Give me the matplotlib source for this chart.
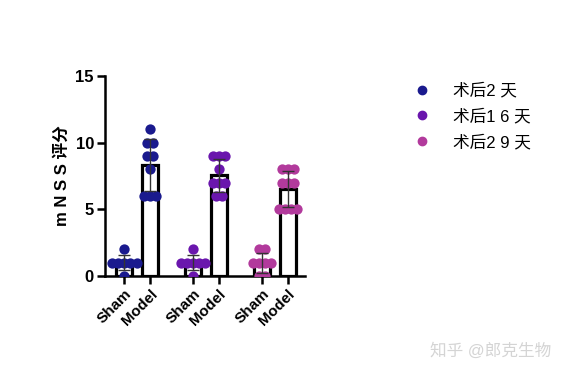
import numpy as np
import matplotlib
matplotlib.use("Agg")
import matplotlib.pyplot as plt

plt.rcParams['font.family'] = ['Liberation Sans', 'Noto Sans CJK SC', 'DejaVu Sans']

categories = ["Sham", "Model", "Sham", "Model", "Sham", "Model"]
series_names = ["术后2 天", "术后1 6 天", "术后2 9 天"]
colors = ["#1a1a8e", "#6a16ad", "#b23a9c"]
sham_2 = [0, 1, 1, 1, 1, 1, 2]
model_2 = [11, 10, 10, 9, 9, 8, 6, 6, 6]
sham_16 = [0, 1, 1, 1, 1, 1, 2]
model_16 = [9, 9, 9, 8, 7, 7, 7, 6, 6]
sham_29 = [0, 1, 1, 1, 1, 2, 2, 0]
model_29 = [8, 8, 8, 7, 7, 7, 5, 5, 5, 5]
groups = [sham_2, model_2, sham_16, model_16, sham_29, model_29]
positions = [0, 1, 2.65, 3.65, 5.3, 6.3]
yticks = [0, 5, 10, 15]

fig = plt.figure(figsize=(5.65, 3.75), dpi=100)
ax = fig.add_axes([0.186, 0.264, 0.354, 0.533])

bw = 0.62
for i, (vals, x) in enumerate(zip(groups, positions)):
    c = colors[i // 2]
    v = np.array(vals, dtype=float)
    m = v.mean()
    sd = v.std(ddof=1)
    ax.bar(x, m, width=bw, facecolor="white", edgecolor="black", linewidth=2.3, zorder=1)
    xs = []
    ys = []
    for val in sorted(set(vals)):
        n = vals.count(val)
        offs = (np.arange(n) - (n - 1) / 2) * 0.24
        xs.extend(x + offs)
        ys.extend([val] * n)
    ax.scatter(xs, ys, s=55, color=c, zorder=3, linewidths=0)
    ax.errorbar(x, m, yerr=sd, color="#333333", capsize=4, elinewidth=1.0, capthick=1.0, zorder=4)

ax.set_xlim(-0.73, 6.96)
ax.set_ylim(0, 15)
ax.set_yticks(yticks)
ax.set_yticklabels([str(t) for t in yticks], fontsize=12, fontweight="bold")
ax.set_xticks(positions)
ax.set_xticklabels(categories, rotation=45, ha="right", rotation_mode="anchor",
                   fontsize=11, fontweight="bold")
ax.spines["top"].set_visible(False)
ax.spines["right"].set_visible(False)
ax.spines["left"].set_linewidth(1.8)
ax.spines["bottom"].set_linewidth(1.8)
ax.tick_params(axis="both", width=1.8, length=6, pad=2)
ax.set_ylabel("m N S S 评分", fontsize=12, fontweight="bold", labelpad=4)

handles = [plt.Line2D([], [], marker="o", linestyle="none", color=c, markersize=6) for c in colors]
fig.legend(handles, series_names, loc="upper left", bbox_to_anchor=(0.69, 0.82),
           frameon=False, fontsize=12, handletextpad=0.9, labelspacing=0.6)

fig.text(0.975, 0.065, "知乎 @郎克生物", ha="right", va="center", fontsize=12,
         color="#d4d4d4")

fig.savefig("out.png", dpi=100)
